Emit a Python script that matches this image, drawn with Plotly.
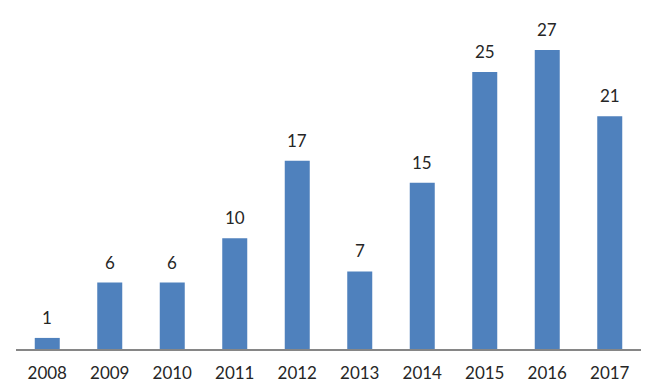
import plotly.graph_objects as go

years = ["2008", "2009", "2010", "2011", "2012", "2013", "2014", "2015", "2016", "2017"]
counts = [1, 6, 6, 10, 17, 7, 15, 25, 27, 21]

fig = go.Figure(go.Bar(
    x=years, y=counts,
    marker=dict(color="#4F81BD", line=dict(width=0)),
    hoverinfo="x+y",
))
for i, v in enumerate(counts):
    fig.add_annotation(x=i, y=v, xref="x", yref="y", text=str(v), showarrow=False,
                       yanchor="bottom", yshift=8,
                       font=dict(family="Lato", size=17, color="#262626"))
fig.update_layout(
    width=650, height=388,
    margin=dict(l=16, r=9, t=10, b=39, autoexpand=False),
    paper_bgcolor="white", plot_bgcolor="white",
    font=dict(family="Lato", size=17, color="#262626"),
    bargap=0.6,
    showlegend=False,
    xaxis=dict(type="category", range=[-0.5, len(years) - 0.5],
               showline=True, linecolor="#868686", linewidth=2,
               showgrid=False, ticks="", ticklabelstandoff=8, automargin=False,
               tickfont=dict(family="Lato", size=17, color="#262626")),
    yaxis=dict(range=[0, 30.6], visible=False, showgrid=False, zeroline=False,
               automargin=False),
)
fig.write_html("out.html", config={"displayModeBar": False},
               post_script="document.body.style.margin='0';document.body.style.overflow='hidden';")
